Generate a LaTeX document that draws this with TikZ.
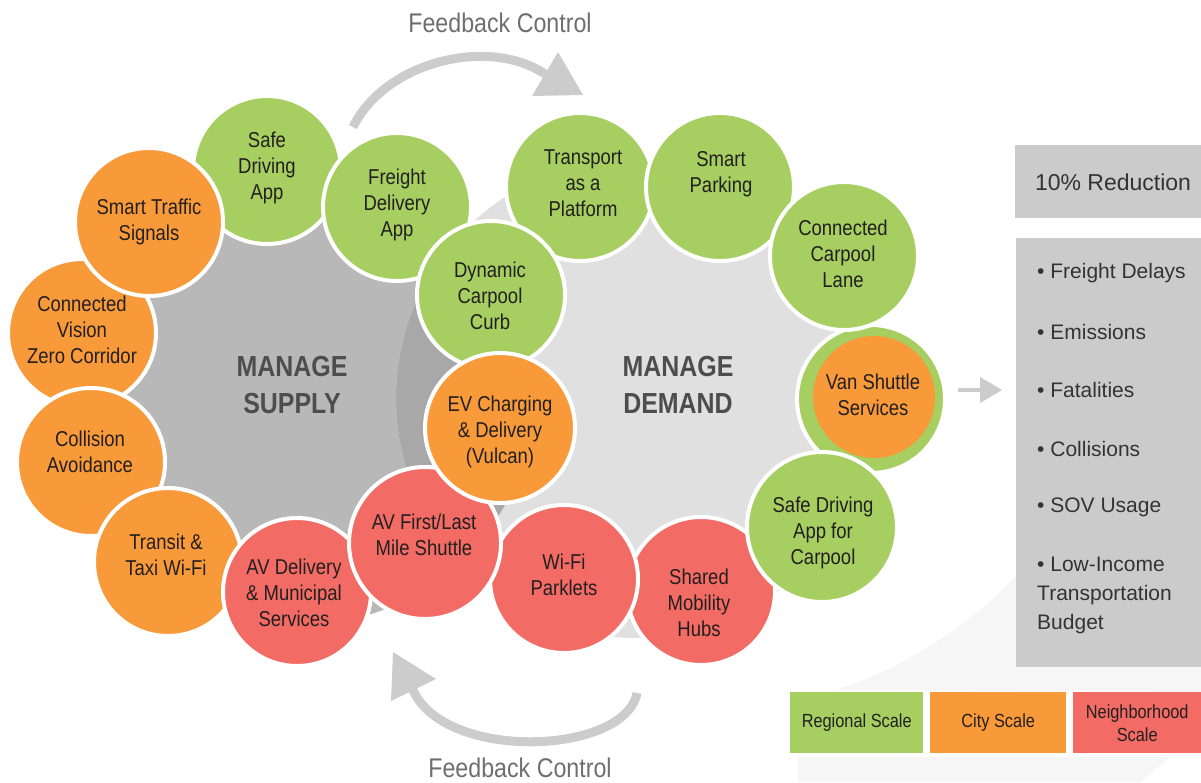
\documentclass[tikz,border=0pt]{standalone}
\usepackage{fontspec}
\setmainfont{Liberation Sans}
\newfontfamily\cond[FakeStretch=0.86]{Liberation Sans}
\definecolor{cgreen}{HTML}{A6CE60}
\definecolor{corange}{HTML}{F89A3A}
\definecolor{cred}{HTML}{F26C65}
\definecolor{ctext}{HTML}{231F20}
\definecolor{supplygray}{HTML}{B8B8B8}
\definecolor{demandgray}{HTML}{E0E0E0}
\definecolor{overlapgray}{HTML}{A8A8A8}
\definecolor{arrowgray}{HTML}{CCCCCC}
\definecolor{boxgray}{HTML}{CBCBCB}
\definecolor{labelgray}{HTML}{4D4D4D}
\definecolor{fbgray}{HTML}{6E6E6E}
\definecolor{swoosh}{HTML}{F6F6F6}
\definecolor{paneltext}{HTML}{333333}
\tikzset{
  bub/.style={circle, draw=white, line width=4pt, minimum size=148pt, inner sep=0pt},
  gbub/.style={bub, fill=cgreen},
  obub/.style={bub, fill=corange},
  rbub/.style={bub, fill=cred},
  txt/.style={font=\cond\fontsize{21.5}{26}\selectfont, text=ctext, align=center, inner sep=0pt},
  biglabel/.style={font=\cond\bfseries\fontsize{29}{37}\selectfont, text=labelgray, align=center, inner sep=0pt},
  fbtext/.style={font=\cond\fontsize{27}{30}\selectfont, text=fbgray, inner sep=0pt},
  fbarc/.style={draw=arrowgray, line width=9pt, line cap=butt},
  fbhead/.style={fill=arrowgray},
  panelbox/.style={fill=boxgray, draw=none},
  paneltxt/.style={font=\fontsize{21}{29}\selectfont, text=paneltext, inner sep=0pt, align=left, anchor=west},
  legbox/.style={draw=none, minimum width=133pt, minimum height=61pt, inner sep=0pt},
  legtxt/.style={font=\cond\fontsize{19}{23}\selectfont, text=ctext, align=center, inner sep=0pt}
}
\begin{document}
\begin{tikzpicture}[x=1pt,y=-1pt]
\useasboundingbox (0,0) rectangle (1201,782);

% faint background swooshes
\fill[swoosh] (835,690) .. controls (910,668) and (985,612) .. (1016,575) -- (1201,575) -- (1201,692) -- cycle;
\fill[swoosh] (798,757) -- (1170,757) -- (1140,782) -- (798,782) -- cycle;

% big regions
\fill[supplygray] (300,390) circle[radius=235];
\fill[demandgray] (636,398) circle[radius=240];
\begin{scope}
  \clip (300,390) circle[radius=235];
  \fill[overlapgray] (636,398) circle[radius=240];
\end{scope}

\node[biglabel] (supply) at (292,385) {MANAGE\\SUPPLY};
\node[biglabel] (demand) at (678,385) {MANAGE\\DEMAND};

% feedback arrows
\coordinate (fa1) at (353,127);
\coordinate (fa2) at (545,74);
\coordinate (fb1) at (532,96);
\coordinate (fb2) at (558,52);
\coordinate (ft) at (583,95);
\draw[fbarc] (fa1) .. controls (385,62) and (488,36) .. (fa2);
\fill[fbhead] (fb1) -- (fb2) -- (ft) -- cycle;
\node[fbtext] (fbtop) at (500,23) {Feedback Control};

\coordinate (ba1) at (637,693);
\coordinate (ba2) at (413,690);
\coordinate (bb1) at (436,679);
\coordinate (bb2) at (391,701);
\coordinate (bt) at (393,652);
\draw[fbarc] (ba1) .. controls (625,755) and (445,762) .. (ba2);
\fill[fbhead] (bb1) -- (bt) -- (bb2) -- cycle;
\node[fbtext] (fbbot) at (520,768) {Feedback Control};

% bubbles (bottom to top)
\node[gbub] (sda) at (267,170) {};
\node[obub] (cvz) at (82,333) {};
\node[obub] (sts) at (149,222) {};
\node[obub] (col) at (91,462) {};
\node[obub] (tti) at (168,562) {};
\node[rbub] (avd) at (297,592) {};
\node[rbub] (shm) at (701,591) {};
\node[rbub] (wfp) at (564,579) {};
\node[rbub, minimum size=152pt] (avf) at (425,543) {};
\node[gbub] (tap) at (580,187) {};
\node[gbub] (fda) at (397,207) {};
\node[gbub] (dcc) at (491,295) {};
\node[obub, minimum size=150pt] (evc) at (500,428) {};
\node[gbub] (smp) at (720,187) {};
\node[gbub] (vss) at (871,399) {};
\node[circle, fill=corange, minimum size=122pt, inner sep=0pt] (vssin) at (874,397) {};
\node[gbub] (ccl) at (844,256) {};
\node[gbub, minimum size=150pt] (sdc) at (822,527) {};

% bubble texts
\node[txt] (tsda) at (267,168) {Safe\\Driving\\App};
\node[txt] (tcvz) at (82,330) {Connected\\Vision\\Zero Corridor};
\node[txt] (tsts) at (149,222) {Smart Traffic\\Signals};
\node[txt] (tcol) at (90,452) {Collision\\Avoidance};
\node[txt] (ttti) at (166,555) {Transit \&\\Taxi Wi-Fi};
\node[txt] (tavd) at (294,593) {AV Delivery\\\& Municipal\\Services};
\node[txt] (tshm) at (699,603) {Shared\\Mobility\\Hubs};
\node[txt] (twfp) at (564,575) {Wi-Fi\\Parklets};
\node[txt] (tavf) at (424,535) {AV First/Last\\Mile Shuttle};
\node[txt] (ttap) at (583,183) {Transport\\as a\\Platform};
\node[txt] (tfda) at (397,205) {Freight\\Delivery\\App};
\node[txt] (tdcc) at (490,296) {Dynamic\\Carpool\\Curb};
\node[txt] (tevc) at (500,432) {EV Charging\\\& Delivery\\(Vulcan)};
\node[txt] (tsmp) at (721,174) {Smart\\Parking};
\node[txt] (tvss) at (873,395) {Van Shuttle\\Services};
\node[txt] (tccl) at (843,254) {Connected\\Carpool\\Lane};
\node[txt] (tsdc) at (823,533) {Safe Driving\\App for\\Carpool};

% arrow to results
\coordinate (ra1) at (958,390);
\coordinate (ra2) at (981,390);
\draw[draw=arrowgray, line width=4pt] (ra1) -- (ra2);
\fill[arrowgray] (980,377) -- (1002,390) -- (980,403) -- cycle;

% right panel
\fill[panelbox] (1015,145) rectangle (1201,218);
\node[font=\fontsize{23}{28}\selectfont, text=paneltext, inner sep=0pt] (red) at (1113,182) {10\% Reduction};
\fill[panelbox] (1016,238) rectangle (1201,667);
\node[paneltxt] (b1) at (1037,273) {\textbullet\ Freight Delays};
\node[paneltxt] (b2) at (1037,332) {\textbullet\ Emissions};
\node[paneltxt] (b3) at (1037,390) {\textbullet\ Fatalities};
\node[paneltxt] (b4) at (1037,449) {\textbullet\ Collisions};
\node[paneltxt] (b5) at (1037,507) {\textbullet\ SOV Usage};
\node[paneltxt] (b6) at (1037,595) {\textbullet\ Low-Income\\Transportation\\Budget};

% legend
\node[legbox, fill=cgreen, anchor=north west] (lg1) at (790,692) {};
\node[legbox, fill=corange, anchor=north west, minimum width=136pt] (lg2) at (930,692) {};
\node[legbox, fill=cred, anchor=north west, minimum width=128pt] (lg3) at (1073,692) {};
\node[legtxt] (tl1) at (lg1.center) {Regional Scale};
\node[legtxt] (tl2) at (lg2.center) {City Scale};
\node[legtxt] (tl3) at (lg3.center) {Neighborhood\\Scale};
\end{tikzpicture}
\end{document}
